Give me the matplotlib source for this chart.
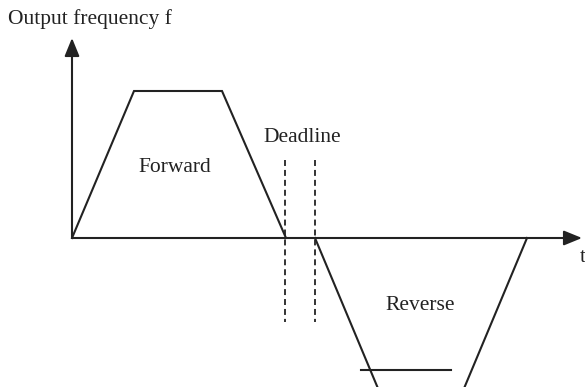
import matplotlib
matplotlib.use("Agg")
import matplotlib.pyplot as plt

# Schematic data (time units, frequency units)
forward_t = [0, 6.2, 15.0, 21.4]
forward_f = [0, 14.7, 14.7, 0]
reverse_t = [24.3, 31.0, 38.8, 45.5]
reverse_f = [0, -16.0, -16.0, 0]
extra_seg_t = [28.9, 37.9]
extra_seg_f = [-13.2, -13.2]
deadline_t = [21.3, 24.3]
deadline_f = [7.8, -8.4]
axis_t_max = 51.0
axis_f_max = 20.0

plt.rcParams['font.family'] = ['Liberation Serif', 'DejaVu Serif']
fig = plt.figure(figsize=(5.85, 3.87), dpi=100)
ax = fig.add_axes([0, 0, 1, 1])
ax.set_xlim(-7.2, 51.3)
ax.set_ylim(-14.9, 23.8)
ax.axis('off')

col = '#222222'
lw = 1.5

# axes with arrows
ax.annotate('', xy=(axis_t_max, 0), xytext=(0, 0),
            arrowprops=dict(arrowstyle='-|>,head_length=1.1,head_width=0.45',
                            color=col, lw=lw, shrinkA=0, shrinkB=0))
ax.annotate('', xy=(0, axis_f_max), xytext=(0, 0),
            arrowprops=dict(arrowstyle='-|>,head_length=1.1,head_width=0.45',
                            color=col, lw=lw, shrinkA=0, shrinkB=0))

ax.plot(forward_t, forward_f, color=col, lw=lw, solid_joinstyle='miter')
ax.plot(reverse_t, reverse_f, color=col, lw=lw, solid_joinstyle='miter')
ax.plot(extra_seg_t, extra_seg_f, color=col, lw=lw)

for t in deadline_t:
    ax.plot([t, t], deadline_f, color=col, lw=1.3, dashes=(3.3, 2.2))

fs = 15.5
ax.text(-6.4, 21.9, 'Output frequency f', fontsize=fs, ha='left', va='center', color=col)
ax.text(50.8, -2.0, 't', fontsize=fs, ha='left', va='center', color=col)
ax.text(30.2 - 7.2, 10.0, 'Deadline', fontsize=fs, ha='center', va='center', color=col)
ax.text(10.3, 7.0, 'Forward', fontsize=fs, ha='center', va='center', color=col)
ax.text(34.8, -6.7, 'Reverse', fontsize=fs, ha='center', va='center', color=col)

fig.savefig('out.png', dpi=100)
